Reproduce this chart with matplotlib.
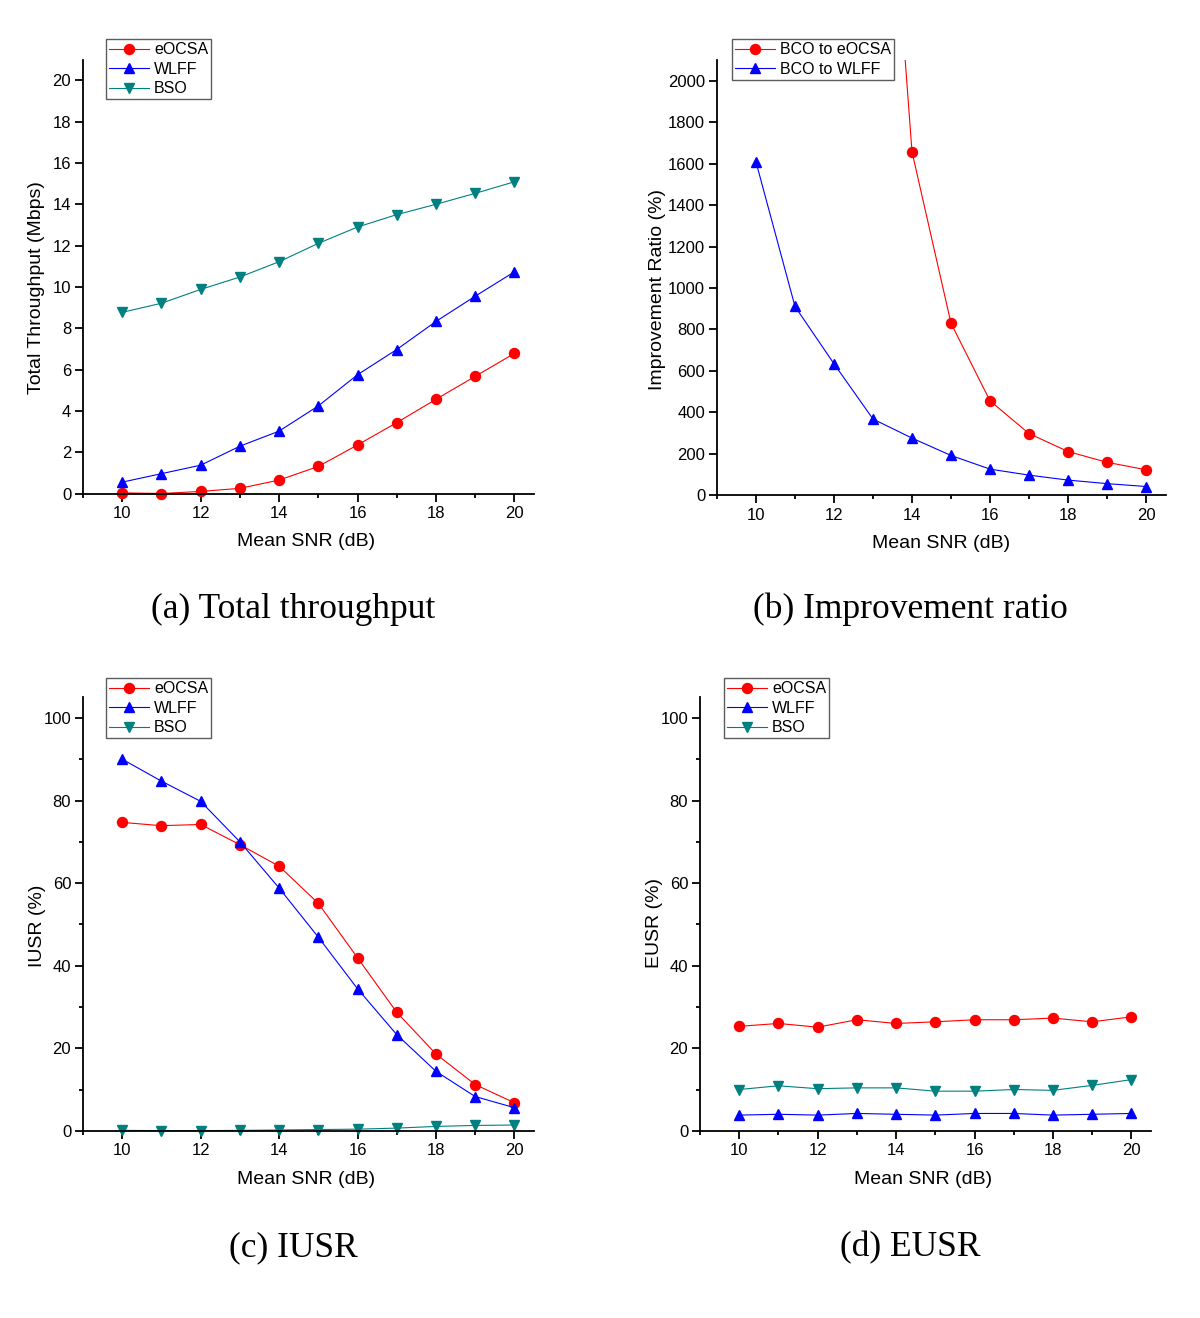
import matplotlib
matplotlib.use("Agg")
import matplotlib.pyplot as plt
from matplotlib.ticker import MultipleLocator

plt.rcParams['font.family'] = ['Liberation Sans', 'DejaVu Sans']

snr = [10, 11, 12, 13, 14, 15, 16, 17, 18, 19, 20]

# (a) total throughput (Mbps)
thr_eocsa = [0.03, 0.0, 0.1, 0.25, 0.65, 1.31, 2.35, 3.43, 4.56, 5.67, 6.78]
thr_wlff = [0.55, 0.96, 1.37, 2.29, 3.02, 4.24, 5.75, 6.97, 8.33, 9.55, 10.73]
thr_bso = [8.77, 9.21, 9.88, 10.48, 11.22, 12.11, 12.9, 13.5, 14.0, 14.53, 15.09]

# (b) improvement ratio (%)
snr_imp_eocsa = [13, 14, 15, 16, 17, 18, 19, 20]
imp_eocsa = [4200, 1658, 830, 455, 297, 210, 158, 122]
imp_wlff = [1609, 911, 634, 367, 275, 191, 125, 96, 72, 55, 41]

# (c) IUSR (%)
iusr_eocsa = [74.7, 73.9, 74.2, 69.3, 64.1, 55.1, 41.9, 28.7, 18.6, 11.2, 6.8]
iusr_wlff = [90.0, 84.7, 79.8, 70.0, 58.8, 46.9, 34.4, 23.3, 14.4, 8.3, 5.6]
iusr_bso = [0.1, 0.05, 0.05, 0.1, 0.2, 0.3, 0.4, 0.65, 1.06, 1.3, 1.4]

# (d) EUSR (%)
eusr_eocsa = [25.3, 26.0, 25.1, 26.9, 26.0, 26.4, 26.9, 26.9, 27.3, 26.4, 27.6]
eusr_wlff = [3.8, 4.0, 3.8, 4.2, 4.0, 3.8, 4.2, 4.2, 3.8, 4.0, 4.2]
eusr_bso = [10.0, 10.9, 10.2, 10.4, 10.4, 9.6, 9.6, 10.0, 9.8, 11.0, 12.4]

RED, BLUE, TEAL = '#ff0000', '#0000ff', '#008080'
W, H = 1200, 1318

fig = plt.figure(figsize=(12, 13.18), dpi=100)


def fx(px):
    return px / W


def fy(py):
    return 1 - py / H


def make_axes(left, bottom, right, top):
    return fig.add_axes([fx(left), fy(bottom), (right - left) / W, (bottom - top) / H])


def style(ax, ylim, ymajor, yminor, ylabel, xlab_pos, ylab_pos):
    ax.set_xlim(9, 20.5)
    ax.set_ylim(*ylim)
    ax.xaxis.set_major_locator(MultipleLocator(2))
    ax.xaxis.set_minor_locator(MultipleLocator(1))
    ax.yaxis.set_major_locator(MultipleLocator(ymajor))
    if yminor:
        ax.yaxis.set_minor_locator(MultipleLocator(yminor))
    for s in ['top', 'right']:
        ax.spines[s].set_visible(False)
    for s in ['left', 'bottom']:
        ax.spines[s].set_linewidth(1.3)
    ax.tick_params(which='major', direction='out', length=5.5, width=1.3, labelsize=12)
    ax.tick_params(which='minor', direction='out', length=3, width=1.3)
    ax.tick_params(axis='x', which='major', pad=3.5)
    ax.tick_params(axis='y', which='major', pad=3)
    ax.set_xlabel('Mean SNR (dB)', fontsize=14, va='center')
    ax.set_ylabel(ylabel, fontsize=14, va='center')
    ax.xaxis.set_label_coords(fx(xlab_pos[0]), fy(xlab_pos[1]), transform=fig.transFigure)
    ax.yaxis.set_label_coords(fx(ylab_pos[0]), fy(ylab_pos[1]), transform=fig.transFigure)


def curve(ax, x, y, color, marker, label):
    ms = 7.2 if marker == 'o' else 7.8
    ax.plot(x, y, color=color, lw=0.8, marker=marker, ms=ms, mec=color, mfc=color,
            label=label, clip_on=max(y) > 1000)


def legend(ax, x, y):
    ax.legend(loc='upper left', bbox_to_anchor=(fx(x), fy(y)),
              bbox_transform=fig.transFigure, fontsize=11.5, frameon=True,
              fancybox=False, edgecolor='#333333', borderpad=0.2,
              labelspacing=0.28, handlelength=2.5, handletextpad=0.3,
              borderaxespad=0)


# (a)
ax = make_axes(83, 493.5, 534, 59.7)
curve(ax, snr, thr_eocsa, RED, 'o', 'eOCSA')
curve(ax, snr, thr_wlff, BLUE, '^', 'WLFF')
curve(ax, snr, thr_bso, TEAL, 'v', 'BSO')
style(ax, (0, 21), 2, None, 'Total Throughput (Mbps)', (306, 542), (37, 288))
legend(ax, 106, 39)

# (b)
ax = make_axes(717, 495, 1165.5, 60.4)
curve(ax, snr_imp_eocsa, imp_eocsa, RED, 'o', 'BCO to eOCSA')
curve(ax, snr, imp_wlff, BLUE, '^', 'BCO to WLFF')
style(ax, (0, 2100), 200, None, 'Improvement Ratio (%)', (941, 544), (657, 289))
legend(ax, 732, 39)

# (c)
ax = make_axes(83, 1130.8, 534, 697.3)
curve(ax, snr, iusr_eocsa, RED, 'o', 'eOCSA')
curve(ax, snr, iusr_wlff, BLUE, '^', 'WLFF')
curve(ax, snr, iusr_bso, TEAL, 'v', 'BSO')
style(ax, (0, 105), 20, 10, 'IUSR (%)', (306, 1179), (37, 926))
legend(ax, 106, 678)

# (d)
ax = make_axes(700, 1130.8, 1151, 697.3)
curve(ax, snr, eusr_eocsa, RED, 'o', 'eOCSA')
curve(ax, snr, eusr_wlff, BLUE, '^', 'WLFF')
curve(ax, snr, eusr_bso, TEAL, 'v', 'BSO')
style(ax, (0, 105), 20, 10, 'EUSR (%)', (923, 1179), (655, 923))
legend(ax, 724, 678)

captions = [('(a) Total throughput', 293, 618), ('(b) Improvement ratio', 910, 618),
            ('(c) IUSR', 293, 1256), ('(d) EUSR', 910, 1256)]
for text, cx, cy in captions:
    fig.text(fx(cx), fy(cy), text, ha='center', va='baseline', fontsize=25.5,
             family=['Liberation Serif', 'DejaVu Serif'])

fig.savefig('out.png', dpi=100)
